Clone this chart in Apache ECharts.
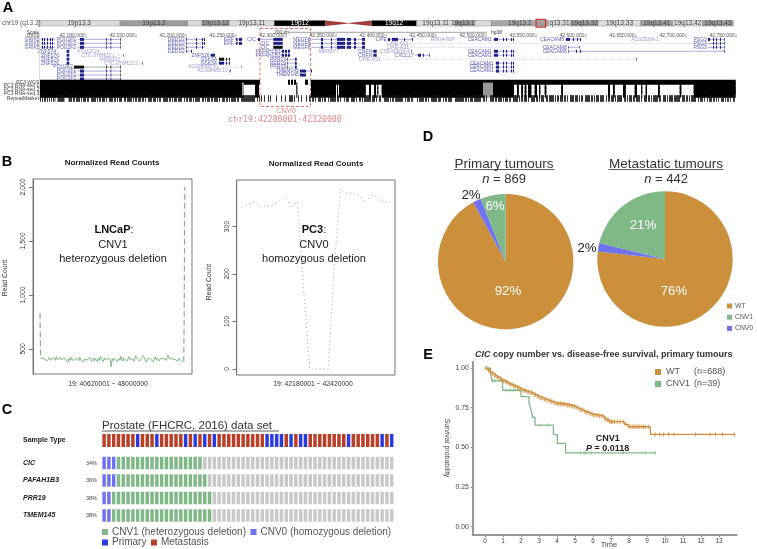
<!DOCTYPE html>
<html><head><meta charset="utf-8">
<style>html,body{margin:0;padding:0;background:#fff}#c{width:757px;height:549px}</style>
<script src="https://cdn.jsdelivr.net/npm/echarts@6/dist/echarts.min.js"></script>
</head><body><div id="c"></div>
<script>
// ---------- Panel A data ----------
const ideoBands = [
 [0,6.9,'19p13.3','#dcdcdc'],[6.9,12.6,'19p13.2','#9c9c9c'],[12.6,13.8,'','#dcdcdc'],[13.8,16.1,'19p13.12','#9c9c9c'],
 [16.1,19.9,'19p13.11','#dcdcdc'],[19.9,24.2,'19p12','#000000'],[24.2,28.1,'','cen'],[28.1,31.9,'19q12','#000000'],
 [31.9,35.1,'19q13.11','#dcdcdc'],[35.1,36.8,'19q13.12','#9c9c9c'],[36.8,38.2,'','#dcdcdc'],[38.2,43,'19q13.2','#a8a8a8'],
 [43,44.9,'q13.31','#dcdcdc'],[44.9,47.2,'19q13.32','#9c9c9c'],[47.2,50.8,'19q13.33','#dcdcdc'],[50.8,53.5,'19q13.41','#9c9c9c'],
 [53.5,56,'19q13.42','#dcdcdc'],[56,58.6,'19q13.43','#9c9c9c']];
const ideoHighlight = [41.97,42.77];
const genomeTicks = [100,150,200,250,300,350,400,450,500,550,600,650,700,750];
// name, row, start, end, exons (start,end pairs), colour key, label end
const G='b', K='k', L='l';
const genes = [
 ['GRIK5',0,54.7,69,[56,57,58,59,61,62,64,65,66,67],G],['GRIK5',1,54.7,69,[56,57,58,59,61,62,64,65,66,67],G],['GRIK5',2,54.7,69,[56,57,58,59,61,62,64,65,66,67],G],
 ['POU2F2',0,91.3,134.7,[94,98,120,120.8,124.5,125.3,134,134.7],G],['POU2F2',1,91.3,134.7,[94,98,120,120.8,124.5,125.3,134,134.7],G],['POU2F2',2,91.3,134.7,[94,98,120,120.8,124.5,125.3,134,134.7],G],
 ['POU2F2',3,112,114,[112,112.6],L],
 ['ZNF574',3,80,83.3,[80.7,83.3],G,70],['ZNF576',4,80,83.3,[80.7,83.3],G,73],['ZNF576',5,80,83.3,[80.7,83.3],G,73],['ZNF576',6,80,83.3,[80.7,83.3],G,73],
 ['CTC-378H22.1',4,131,139,[137,138],L,129],['MIR8323',5,134,134,[],L,134],['CTC-378H22.2',6,154,157,[156,157],L,152],
 ['POU2F2',7,88,134.7,[88,98,120,120.8,124.5,125.3,134,134.7],K],['POU2F2',8,91.5,134.7,[94,98,120,120.8,124.5,125.3,134,134.7],G],['POU2F2',9,91.5,134.7,[94,98,120,120.8,124.5,125.3,134,134.7],G],['POU2F2',10,91.5,134.7,[94,98,120,120.8,124.5,125.3,134,134.7],G],
 ['DEDD2',0,200,219,[200,200.8,210,211,216,217,218,219],G],['DEDD2',1,200,219,[200,200.8,210,211,216,217,218,219],G],['DEDD2',2,200,219,[200,200.8,210,211,216,217],G],['DEDD2',3,200,206,[200,200.8,205,206],G],
 ['ZNF526',4,224.7,229,[224.7,229],G],['GSK3A',5,232.3,244,[233,238,240,241,243,244],K],['GSK3A',6,232.3,244,[233,238,240,241,243,244],G],
 ['AC006486.9',7,231,256,[231,231.5,255.5,256],L],['AC006486.10',8,243,245,[243.5,245],L],
 ['ERF',0,249,256.7,[250,251.5,253,256],G],['ERF',1,249,256.7,[250,251.5,253,256],G],
 ['CIC',0,270.7,296.7,[272,274,287.3,296.7],G],['CIC',1,287,296.7,[287.3,296.7],G,283],['CIC',2,287,296.7,[287.3,296.7],K,283],
 ['PAFAH1B3',3,295.7,304,[295.7,298,299,301,302,304],G],['PAFAH1B3',4,295.7,304,[295.7,298,299,301,302,304],G],
 ['PRR19',5,301.3,310.7,[301.3,302,309,310.7],G],['PRR19',6,301.3,310.7,[301.3,302,309,310.7],G],['PRR19',7,301.3,310.7,[301.3,302,309,310.7],G],
 ['TMEM145',8,314,326,[314,320,325,326],G],['TMEM145',9,314,320,[314,320],G],
 ['MEGF8',0,325.7,379,[335,337,345,346,351,359,361,365,368,370,376,379],G],['MEGF8',1,325.7,379,[335,337,345,346,351,359,361,365,368,370,376,379],G],['MEGF8',2,325.7,379,[335,337,345,346,351,359,361,365,368,370,376,379],G],
 ['MIR8077',3,353,353,[],L,353],['CNFN',3,387.3,390.7,[387.3,390.7],G],['CNFN',4,387.3,390.7,[387.3,390.7],G],
 ['LIPE-AS1',5,397,651,[650,651],L,395],['LIPE',0,402,427,[402,404,406,412,418,419,426,427],G],
 ['LIPE-AS1',1,424.3,738.7,[],L],['LIPE-AS1',2,424.3,525,[],L],['CTB-50E14.4',3,425,426,[425,426],L],
 ['CXCL17',4,428.7,443.7,[432,435,437,438,443,443.7],G],['RNU4-80P',0,470,470,[],L],
 ['CEACAM1',0,507,528,[508,512,517,518,520,521,525,526,527,528],G],['CEACAM1',3,507,528,[508,512,517,518,520,521,525,526,527,528],G],['CEACAM1',4,507,528,[508,512,517,518,520,521,525,526,527,528],G],
 ['CEACAM1',6,509,528,[510,513,517,518,520,521,525,526,527,528],G],['CEACAM1',7,509,528,[510,513,517,518,520,521,525,526,527,528],G],['CEACAM1',8,509,528,[510,513,517,518,520,521,525,526,527,528],G],
 ['CEACAM8',0,579.3,595.3,[580,584,587,588,591,592,594,595],G],['CEACAM8',2,582,594,[582,582.6,593.4,594],G],['CEACAM8',3,582,738.7,[582,582.6,590,591,594,595,738,738.7],G],
 ['AC005264.1',0,673,673,[],L,673],
 ['PSG3',0,722,738.7,[722,724,727,728,730,731,734,735,738,738.7],G],['PSG3',1,722,738.7,[727,728,730,731,734,735,738,738.7],G],['PSG3',2,722,738.7,[727,728,730,731,734,735,738,738.7],G]];
const trackRows = [['PC3 WGS',10.82,0.66],['PC3 RNA-seq 1',11.75,0.85],['PC3 RNA-seq 2',12.78,0.85],['PC3 RNA-seq 3',13.8,0.9],['RepeatMasker',14.92,0.85]];
const wgsBlocks = [[54,274],[302,304],[305,307],[308,310],[319,322],[324.7,749.7]];
const rnaBlocks = [[54,256],[269,273],[310,311.3],[325,350],[351,352],[353,379.7],[383,385],[388,390],[391.3,392.3],[395.7,497],[507,528],
 [531,532.7],[535.3,537],[538.7,540.3],[542,545.3],[548.7,551],[553,554.3],[558.7,560.3],[575.3,577],[622,624],[627,628.7],[637,639.7],[648.7,651],[655.3,656.3],[659.7,661],[672,673.7],[693.7,695.3],[707.7,749.7]];
const rnaGrayBlocks = [[497,507],[256,258],[310,310.5]];
const runsX = [3,1,2,1,4,1,1,1,3,1,2,2,5,1,1,1,2,1,3,1,1,2,4,1,2,1,1,1,3,2,2,1,5,1,1,1,2,1,3,1,2,1,1,2,4,1,3,1,1,1,2,2,5,1,2,1,1,1,3,1,4,2,1,1,2,1,3,1,1,1,5,2,2,1,1,1,3,1,2,1,4,1,1,2,3,1,2,1,1,1,5,1,2,2,3,1,1,1,4,1,2,1];
const runsY = [1,1,2,1,1,2,3,1,1,1,2,2,1,1,6,1,2,1,1,3,1,1,3,2,4,1,1,2,2,1,1,1,7,1,3,1,1,2,2,3,5,1,1,1,2,1,8,2,1,1,3,1,2,4,1,1,5,1,2,1,1,2,6,1,3,2,1,1,2,1,4,3,9,1,2,1,1,1,3,1,7,2,2,1,1,3,1,1,4,1,6,1,2,2,1,1,3,1,10,1,2,1,4,2,1,1,5,1,1,3,2,1,8,2,3,1,1,1,4,1,2,3,6,1,1,1,2,2,9,1,3,1,1,2,5,1,2,1,7,2,1,1,3,1,4,1,2,3,1,1];
const repeatSegments = [
 [54,[1,1,1,1,2,1,1,1,1,1,1,1,1,0.5,1,2,7,4,3,1]],[83,runsX],[256,[13,2,1,1,1,1,1,2,1,3,1,1,1,2]],
 [284,[1,5,1,4,1,3,1,3,4,1,1,3,1,2,1,4,1,2,1,3,1]],[324,runsY],[505,runsX],[690,[4,2,3,1,2,1,1,1,5,2,1,1,3,1,1,2,1,1,3,1,2,1,1,1,1,2,3,1,1,1,2,1,1,2,2,1,1,1,3]]];
// ---------- Panel B data ----------
const lncapStart = 40.65, lncapStep = 0.05;
const lncapValues = [412,405,398,420,401,388,415,392,408,425,396,403,385,418,409,394,430,402,390,411,422,399,407,384,416,428,397,405,376,414,
 392,421,400,387,410,395,382,417,404,391,426,398,386,413,379,406,419,393,401,388,424,408,384,397,415,390,411,402,378,418,
 395,431,405,392,383,420,399,410,386,414,427,394,335,409,389,416,402,425,381,398,412,393,434,407,388,415,400,421,385,396,
 429,404,391,417,408,383,399,437,412,396,424,387,406,418,393,439,402,385,376,414,398,420,407,390,411,380,403,428,395,417,
 401,388,409,423,397,415,432,405,394,420,440,412,399,426,408,391,418,403,395,410,386,414,399,405,382];
const lncapLeftSpike = [[40.62,830],[40.62,760],[40.64,560],[40.65,412]];
const lncapRightSpike = [[47.95,382],[47.97,800],[47.99,1500],[48.0,2000]];
const pc3X = [42.18,42.19,42.2,42.21,42.22,42.23,42.24,42.25,42.26,42.27,42.28,42.29,42.3,42.31,42.32,42.33,42.34,42.35,42.36,42.37,42.38,42.39,42.4,42.41,42.42];
const pc3Values = [341,346,351,343,342,346,352,365,340,352,172,0,0,0,0,222,380,370,370,366,351,365,362,352,350];
const lncapYTicks = [500,1000,1500,2000];
const pc3YTicks = [0,100,200,300];
// ---------- Panel C data ----------
const sampleCount = 61;
const primaryIdx = [7,11,17,19,21,23,34,35,36,37,39,41,42,51,58,60];
const cGenes = ['CIC','PAFAH1B3','PRR19','TMEM145'];
const cPct = ['34%','36%','38%','38%'];
const cCnv0 = [3,3,2,2];
const cCnv1 = [18,19,21,21];
// ---------- Panel D data ----------
const pieNames = ['WT','CNV0','CNV1'];
const primaryPie = [92,2,6];
const metaPie = [76,2,21];
// ---------- Panel E data ----------
const wtSteps = [[0,1],[.1,.995],[.2,.985],[.3,.975],[.37,.966],[.5,.955],[.62,.945],[.75,.935],[.88,.925],[1.02,.918],[1.15,.91],[1.3,.9],[1.45,.893],[1.6,.885],[1.75,.878],[1.94,.866],[2.1,.858],[2.3,.85],[2.5,.843],[2.69,.832],[2.85,.822],[3.05,.812],[3.25,.803],[3.45,.795],[3.65,.787],[3.8,.78],[4,.775],[4.3,.772],[4.54,.766],[4.8,.76],[5,.752],[5.15,.745],[5.28,.737],[5.45,.728],[5.6,.72],[5.8,.71],[6,.703],[6.3,.698],[6.57,.69],[6.7,.675],[6.9,.662],[7.6,.66],[7.75,.645],[7.96,.63],[9.17,.626],[9.2,.582],[13.9,.582]];
const wtCensor = [.05,.15,.2,.28,.33,.4,.45,.52,.58,.66,.7,.78,.84,.92,.98,1.05,1.12,1.2,1.26,1.35,1.42,1.5,1.56,1.65,1.7,1.8,1.88,1.96,2.04,2.12,2.2,2.26,2.35,2.42,2.5,2.58,2.65,2.74,2.8,2.9,2.96,3.05,3.12,3.2,3.3,3.38,3.45,3.55,3.62,3.7,3.78,3.86,3.95,4.02,4.1,4.18,4.25,4.33,4.42,4.5,4.58,4.66,4.72,4.8,4.88,4.96,5.05,5.12,5.2,5.28,5.36,5.44,5.52,5.6,5.7,5.78,5.86,5.95,6.02,6.1,6.2,6.28,6.36,6.45,6.55,6.62,6.72,6.8,6.88,6.95,7.02,7.1,7.2,7.35,7.5,7.68,7.85,8,8.1,8.2,8.3,8.4,8.5,8.6,8.7,8.8,8.9,9.1,9.45,9.7,9.9,10.2,10.5,11.7,12.5,12.8,13.2,13.85];
const cnvSteps = [[0,1],[.3,.966],[.4,.92],[.98,.86],[2,.82],[2.45,.78],[2.55,.74],[2.65,.69],[2.78,.64],[3.8,.58],[4.02,.525],[4.48,.465],[9.5,.465]];
const cnvCensor = [[.4,.92],[.55,.92],[1.2,.86],[1.4,.86],[1.6,.86],[1.9,.86],[3.05,.64],[3.5,.64],[5.3,.465],[5.5,.465],[5.6,.465],[5.9,.465],[7.7,.465],[8.9,.465],[9.45,.465]];
const eYTicks = [0,.25,.5,.75,1];
const eXTicks = [0,1,2,3,4,5,6,7,8,9,10,11,12,13];
const eLegendN = {WT:'(n=688)',CNV1:'(n=39)'};

// ---------- colours ----------
const cWT='#cc8f3c', cCNV1='#80b888', cCNV0='#7173ee', cPrim='#2a3ce0', cMet='#b93f26', cGray='#c9c9c9';
const FF='"Liberation Sans",Arial,sans-serif';

// ---------- helpers ----------
function wtAt(t){let s=1;for(const p of wtSteps){if(p[0]<=t)s=p[1];else break;}return s;}
function expandRuns(){const out=[];repeatSegments.forEach((seg,i)=>{const stop=i+1<repeatSegments.length?repeatSegments[i+1][0]:749.7;let p=seg[0],b=true;
  for(const r of seg[1]){if(p>=stop)break;if(b)out.push([p,Math.min(p+r,stop)]);p+=r;b=!b;}});return out;}
function T(x,y,text,o){o=o||{};return {type:'text',x,y,rotation:o.rot||0,silent:true,z:50,style:Object.assign({text,fontFamily:o.ff||FF,fontSize:o.s||8,fontWeight:o.w||'normal',fontStyle:o.i?'italic':'normal',fill:o.c||'#222',align:o.a||'center',verticalAlign:'middle',rich:o.rich},{})};}
function rule(x1,x2,y,c){return {type:'line',silent:true,z:50,shape:{x1,y1:y,x2,y2:y},style:{stroke:c||'#333',lineWidth:0.8}};}

const gfx = [
 T(8,8,'A',{s:14.5,w:'bold',c:'#000'}),T(7,162,'B',{s:14.5,w:'bold',c:'#000'}),T(7,410,'C',{s:14.5,w:'bold',c:'#000'}),T(428,137,'D',{s:14.5,w:'bold',c:'#000'}),T(428,355,'E',{s:14.5,w:'bold',c:'#000'}),
 T(2,23.6,'chr19 (q13.2)',{s:6.5,a:'left',c:'#555'}),
 T(39,32.3,'Scale',{s:5,a:'right',c:'#444'}),T(39,36,'chr19',{s:5,a:'right',c:'#444'}),
 T(274,32.3,'200 kb',{s:5,a:'left',c:'#444'}),T(491,32.3,'hg38',{s:5,a:'left',c:'#444'}),
 {type:'line',silent:true,z:40,shape:{x1:289,y1:32.3,x2:487,y2:32.3},style:{stroke:'#666',lineWidth:0.6}},
 {type:'line',silent:true,z:40,shape:{x1:39.5,y1:33,x2:39.5,y2:100},style:{stroke:'#e6cfc8',lineWidth:0.8}},
 {type:'rect',silent:true,z:45,shape:{x:260,y:28.5,width:50.5,height:78},style:{fill:'none',stroke:'#d9534f',lineWidth:0.8,lineDash:[3,2]}},
 T(286,110.5,'CNV0',{s:7.5,c:'#e08a86'}),
 T(285,119.5,'chr19:42280001-42320000',{s:8.2,ff:'"DejaVu Sans Mono",monospace',c:'#e08a86'}),
 // B
 T(112,163,'Normalized Read Counts',{s:8,w:'bold'}),T(316,164,'Normalized Read Counts',{s:8,w:'bold'}),
 T(5,278,'Read Count',{s:6.8,rot:Math.PI/2,c:'#333'}),T(209,282,'Read Count',{s:6.8,rot:Math.PI/2,c:'#333'}),
 T(108,384,'19: 40620001 − 48000000',{s:6.8,c:'#333'}),T(313,384,'19: 42180001 − 42420000',{s:6.8,c:'#333'}),
 T(114,230,'{b|LNCaP}:',{s:11,rich:{b:{fontWeight:'bold',fontSize:11,fontFamily:FF,fill:'#111'}}}),T(113,244.5,'CNV1',{s:11}),T(113,259,'heterozygous deletion',{s:11}),
 T(314,230,'{b|PC3}:',{s:11,rich:{b:{fontWeight:'bold',fontSize:11,fontFamily:FF,fill:'#111'}}}),T(314,244.5,'CNV0',{s:11}),T(314,259,'homozygous deletion',{s:11}),
 // C
 T(102,426,'Prostate (FHCRC, 2016) data set',{s:11.5,a:'left',c:'#333'}),rule(102,279,431),
 T(23,440.5,'Sample Type',{s:7,w:'bold',a:'left'}),
 // D
 T(504,164,'Primary tumours',{s:13.5,c:'#333'}),rule(454,554.5,169.5),
 T(666,164,'Metastatic tumours',{s:13.5,c:'#333'}),rule(608.5,723.5,169.5),
 T(504,179,'{i|n} = 869',{s:13,c:'#333',rich:{i:{fontStyle:'italic',fontSize:13,fontFamily:FF,fill:'#333'}}}),
 T(666,179,'{i|n} = 442',{s:13,c:'#333',rich:{i:{fontStyle:'italic',fontSize:13,fontFamily:FF,fill:'#333'}}}),
 // E
 T(475,355,'{i|CIC} copy number vs. disease-free survival, primary tumours',{s:9,w:'bold',a:'left',c:'#333',rich:{i:{fontStyle:'italic',fontWeight:'bold',fontSize:9,fontFamily:FF,fill:'#333'}}}),
 T(609,545,'Time',{s:7.5,c:'#444'}),T(447,448,'Survival probability',{s:7,rot:-Math.PI/2,c:'#444'}),
 T(607.7,439,'CNV1',{s:9,w:'bold'}),
 T(607.7,448.5,'{i|P} = 0.0118',{s:9,w:'bold',rich:{i:{fontStyle:'italic',fontWeight:'bold',fontSize:9,fontFamily:FF,fill:'#222'}}})
];
cGenes.forEach((g,i)=>{const y=463+17.5*i;gfx.push(T(23,y,g,{s:7,w:'bold',i:true,a:'left'}));gfx.push(T(97,y,cPct[i],{s:5.5,a:'right',c:'#444'}));});

// ---------- grids & axes ----------
const hidden = (o)=>Object.assign({type:'value',show:false},o);
const grids=[
 {left:38.3,width:695,top:20.5,height:5.5},
 {left:40,width:697,top:27.5,height:83.2},
 {left:33,width:159,top:179,height:195,show:true,borderColor:'#777',borderWidth:1},
 {left:236.7,width:158.3,top:180,height:195,show:true,borderColor:'#777',borderWidth:1},
 {left:101.7,width:292.4,top:428,height:105},
 {left:472.7,width:264,top:361.7,height:173.3}];
const rY=(ticks,min,max)=>({type:'value',gridIndex:0,min,max,splitLine:{show:false},axisLine:{show:true,lineStyle:{color:'#777'}},
  axisTick:{show:true,length:4,customValues:ticks,lineStyle:{color:'#777'}},
  axisLabel:{show:true,customValues:ticks,rotate:90,fontSize:6.8,color:'#333',margin:6,fontFamily:FF}});
const xAxes=[hidden({gridIndex:0,min:0,max:58.6}),hidden({gridIndex:1,min:54,max:751}),
 hidden({gridIndex:2,min:40.26,max:48.37}),hidden({gridIndex:3,min:42.1719,max:42.4281}),
 hidden({gridIndex:4,min:-0.5,max:sampleCount-0.5}),
 {type:'value',gridIndex:5,min:-0.68,max:13.98,splitLine:{show:false},axisLine:{show:true,onZero:false,lineStyle:{color:'#999',width:2}},
  axisTick:{show:true,length:2,customValues:eXTicks,lineStyle:{color:'#888'}},axisLabel:{show:true,customValues:eXTicks,fontSize:6.5,color:'#444',margin:3,fontFamily:FF}}];
const yAxes=[hidden({gridIndex:0,min:0,max:1}),hidden({gridIndex:1,min:-3,max:18,inverse:true}),
 Object.assign(rY(lncapYTicks,268,2074),{gridIndex:2}),Object.assign(rY(pc3YTicks,-13,398),{gridIndex:3}),
 hidden({gridIndex:4,min:-2,max:4,inverse:true}),
 {type:'value',gridIndex:5,min:-0.052,max:1.04,splitLine:{show:false},axisLine:{show:true,onZero:false,lineStyle:{color:'#999',width:2}},
  axisTick:{show:true,length:2,customValues:eYTicks,lineStyle:{color:'#888'}},
  axisLabel:{show:true,customValues:eYTicks,fontSize:6.8,color:'#444',margin:4,fontFamily:FF,formatter:v=>v.toFixed(2)}}];

// ---------- render functions ----------
function rectEl(api,x1,x2,yc,hRows,fill,op){const a=api.coord([x1,yc-hRows]),b=api.coord([x2,yc+hRows]);return {type:'rect',shape:{x:a[0],y:a[1],width:b[0]-a[0],height:b[1]-a[1]},style:{fill,opacity:op==null?1:op}};}
const ideoSeries={type:'custom',name:'ideogram',xAxisIndex:0,yAxisIndex:0,coordinateSystem:'cartesian2d',silent:true,clip:false,z:5,
 data:ideoBands.map(b=>[b[0],b[1]]),
 renderItem(p,api){const b=ideoBands[p.dataIndex];const a=api.coord([b[0],0]),c=api.coord([b[1],1]);const kids=[];const x=a[0],w=c[0]-a[0],top=c[1],h=a[1]-c[1];
  if(b[3]==='cen'){const m=x+w/2,mid=top+h/2;kids.push({type:'polygon',shape:{points:[[x,top],[m,mid-0.3],[x+w,top],[x+w,top+h],[m,mid+0.3],[x,top+h]]},style:{fill:'#a33a3a'}});}
  else{kids.push({type:'rect',shape:{x,y:top,width:w,height:h},style:{fill:b[3],stroke:'#777',lineWidth:0.4}});
   if(b[2])kids.push({type:'text',style:{text:b[2],x:x+w/2,y:top+h/2+0.3,align:'center',verticalAlign:'middle',font:'6.5px '+FF,fill:b[3]==='#000000'?'#fff':'#444'}});}
  return {type:'group',children:kids};}};
const ideoHL={type:'custom',name:'ideogramHighlight',xAxisIndex:0,yAxisIndex:0,silent:true,clip:false,z:6,data:[ideoHighlight],
 renderItem(p,api){const a=api.coord([ideoHighlight[0],-0.2]),c=api.coord([ideoHighlight[1],1.2]);return {type:'rect',shape:{x:a[0],y:c[1],width:c[0]-a[0],height:a[1]-c[1]},style:{fill:'rgba(160,150,150,.6)',stroke:'#cc3b30',lineWidth:1.3}};}};
const geneColors={b:['#5a5ab4','#1f1f8a','#5f5fb5'],k:['#555','#111','#5f5fb5'],l:['#9a9ad0','#7a7ac0','#9a9ad4']};
const geneSeries={type:'custom',name:'genes',xAxisIndex:1,yAxisIndex:1,silent:true,clip:false,z:6,
 data:genes.map(g=>[g[2],g[3],g[1]]),
 renderItem(p,api){const g=genes[p.dataIndex],col=geneColors[g[5]];const kids=[];const a=api.coord([g[2],g[1]]),b=api.coord([g[3],g[1]]);
  if(b[0]>a[0])kids.push({type:'line',shape:{x1:a[0],y1:a[1],x2:b[0],y2:b[1]},style:{stroke:col[0],lineWidth:0.5,lineDash:g[5]==='l'?[1,1]:null}});
  for(let i=0;i+1<g[4].length;i+=2){kids.push(rectEl(api,g[4][i],g[4][i+1],g[1],0.38,col[1]));}
  const lx=api.coord([g[6]!=null?g[6]:g[2]-1.2,g[1]]);
  kids.push({type:'text',style:{text:g[0],x:lx[0],y:lx[1],align:'right',verticalAlign:'middle',font:'5px '+FF,fill:col[2]}});
  return {type:'group',children:kids};}};
const tickSeries={type:'custom',name:'genomeTicks',xAxisIndex:1,yAxisIndex:1,silent:true,clip:false,z:6,data:genomeTicks.map(t=>[t,-0.85]),
 renderItem(p,api){const t=genomeTicks[p.dataIndex];const a=api.coord([t,-0.85]);const s='42,'+String(t)+',000';
  return {type:'group',children:[{type:'line',shape:{x1:a[0],y1:a[1]-1.8,x2:a[0],y2:a[1]+1.8},style:{stroke:'#444',lineWidth:0.5}},
   {type:'text',style:{text:s,x:a[0]-1.5,y:a[1],align:'right',verticalAlign:'middle',font:'5px '+FF,fill:'#555'}}]};}};
function blockSeries(name,blocks,row,half,fill,op){return {type:'custom',name,xAxisIndex:1,yAxisIndex:1,silent:true,clip:false,z:7,data:blocks,
 renderItem(p,api){return rectEl(api,api.value(0),api.value(1),row,half,fill,op);}};}
const trackSeries=[blockSeries('PC3 WGS',wgsBlocks,trackRows[0][1],trackRows[0][2],'#000')];
[1,2,3].forEach(i=>{trackSeries.push(blockSeries(trackRows[i][0],rnaBlocks,trackRows[i][1],trackRows[i][2],'#000'));trackSeries.push(blockSeries(trackRows[i][0]+' low',rnaGrayBlocks,trackRows[i][1],trackRows[i][2],'#999'));});
trackSeries.push(blockSeries('RepeatMasker',expandRuns(),trackRows[4][1],trackRows[4][2],'#111',0.85));
const trackLabels={type:'custom',name:'trackLabels',xAxisIndex:1,yAxisIndex:1,silent:true,clip:false,z:7,data:trackRows.map(r=>[54,r[1]]),
 renderItem(p,api){const r=trackRows[p.dataIndex];const a=api.coord([53.3,r[1]]);return {type:'text',style:{text:r[0],x:a[0],y:a[1],align:'right',verticalAlign:'middle',font:'5px '+FF,fill:'#444'}};}};

// C
function oncoCells(row,from,to){const o=[];for(let i=from;i<to;i++)o.push([i,row]);return o;}
const cnv0Cells=[],cnv1Cells=[],wtCells=[];
cGenes.forEach((g,r)=>{cnv0Cells.push(...oncoCells(r,0,cCnv0[r]));cnv1Cells.push(...oncoCells(r,cCnv0[r],cCnv0[r]+cCnv1[r]));wtCells.push(...oncoCells(r,cCnv0[r]+cCnv1[r],sampleCount));});
const stRow=-1.286;const primCells=[],metCells=[];
for(let i=0;i<sampleCount;i++){(primaryIdx.includes(i)?primCells:metCells).push([i,stRow]);}
function cellSeries(name,data,color){return {type:'custom',name,xAxisIndex:4,yAxisIndex:4,silent:true,z:5,itemStyle:{color},data,
 renderItem(p,api){const c=api.coord([api.value(0),api.value(1)]);const h=api.value(1)<0?13:12.5;return {type:'rect',shape:{x:c[0]-1.75,y:c[1]-h/2,width:3.5,height:h},style:{fill:color}};}};}

// pie
const pieColors=[cWT,cCNV0,cCNV1];
const toPie=v=>pieNames.map((n,i)=>({name:n,value:v[i],itemStyle:{color:pieColors[i]},label:{color:i===1?'#222':'#fff'}}));
function pieSeries(name,vals,cx,cy,pos){return {type:'pie',name,center:[cx,cy],radius:[0,67.7],startAngle:90,clockwise:true,silent:true,animation:false,data:toPie(vals),
 label:{show:true,position:'inside',fontSize:13.3,fontFamily:FF,formatter:d=>d.value+'%'},labelLine:{show:false},
 labelLayout:p=>({x:pos[p.dataIndex][0],y:pos[p.dataIndex][1]})};}

const wtLine=wtSteps.slice();
const option={animation:false,backgroundColor:'#fff',textStyle:{fontFamily:FF},grid:grids,xAxis:xAxes,yAxis:yAxes,graphic:{elements:gfx},
 legend:[
  {left:102,top:527,padding:0,itemWidth:6,itemHeight:6,itemGap:4.5,selectedMode:false,textStyle:{fontSize:10,color:'#555',padding:[0,0,0,-1]},data:[{name:'CNV1 (heterozygous deletion)',icon:'rect'},{name:'CNV0 (homozygous deletion)',icon:'rect'}]},
  {left:102,top:537.5,padding:0,itemWidth:6,itemHeight:6,itemGap:4.5,selectedMode:false,textStyle:{fontSize:10,color:'#555',padding:[0,0,0,-1]},data:[{name:'Primary',icon:'rect'},{name:'Metastasis',icon:'rect'}]},
  {left:727,top:302.5,orient:'vertical',padding:0,itemWidth:5,itemHeight:5,itemGap:4.2,selectedMode:false,textStyle:{fontSize:6.8,color:'#555',padding:[0,0,0,-2]},data:[{name:'WT',icon:'rect',itemStyle:{color:cWT}},{name:'CNV1',icon:'rect',itemStyle:{color:cCNV1}},{name:'CNV0',icon:'rect',itemStyle:{color:cCNV0}}]},
  {left:655,top:367.5,orient:'vertical',padding:0,itemWidth:6,itemHeight:6,itemGap:3,selectedMode:false,
   formatter:n=>'{a|'+n+'}{b|'+eLegendN[n]+'}',textStyle:{fontSize:9,color:'#555',rich:{a:{width:28,fontSize:9,color:'#555'},b:{fontSize:9,color:'#555'}}},
   data:[{name:'WT',icon:'rect',itemStyle:{color:cWT}},{name:'CNV1',icon:'rect',itemStyle:{color:cCNV1}}]}
 ],
 series:[
  ideoSeries,ideoHL,tickSeries,geneSeries,...trackSeries,trackLabels,
  // B
  {type:'line',name:'LNCaP read count',xAxisIndex:2,yAxisIndex:2,showSymbol:false,silent:true,lineStyle:{color:cCNV1,width:1},z:4,
   data:lncapValues.map((v,i)=>[lncapStart+i*lncapStep,v])},
  {type:'line',name:'LNCaP left',xAxisIndex:2,yAxisIndex:2,showSymbol:false,silent:true,lineStyle:{color:cCNV1,width:1.2,type:[6,3]},z:4,data:lncapLeftSpike},
  {type:'line',name:'LNCaP right',xAxisIndex:2,yAxisIndex:2,showSymbol:false,silent:true,lineStyle:{color:cCNV1,width:1.2,type:[6,3]},z:4,data:lncapRightSpike},
  {type:'line',name:'PC3 read count',xAxisIndex:3,yAxisIndex:3,showSymbol:false,silent:true,lineStyle:{color:'#9a9ad6',width:1,type:[1,3]},z:4,
   data:pc3Values.map((v,i)=>[pc3X[i],v])},
  // C
  cellSeries('Metastasis',metCells,cMet),cellSeries('Primary',primCells,cPrim),
  cellSeries('CNV1 (heterozygous deletion)',cnv1Cells,cCNV1),cellSeries('CNV0 (homozygous deletion)',cnv0Cells,cCNV0),cellSeries('Not altered',wtCells,cGray),
  // D
  pieSeries('Primary tumours',primaryPie,505.7,261.7,[[508,291],[471,195.5],[495,206]]),
  pieSeries('Metastatic tumours',metaPie,665,259,[[674,291],[587,248],[643,225]]),
  // E
  {type:'line',name:'WT',step:'end',xAxisIndex:5,yAxisIndex:5,showSymbol:false,silent:true,itemStyle:{color:cWT},lineStyle:{color:cWT,width:1.3},z:4,data:wtLine},
  {type:'line',name:'CNV1',step:'end',xAxisIndex:5,yAxisIndex:5,showSymbol:false,silent:true,itemStyle:{color:cCNV1},lineStyle:{color:cCNV1,width:1.3},z:3,data:cnvSteps},
  {type:'scatter',name:'WT censored',xAxisIndex:5,yAxisIndex:5,silent:true,symbol:'rect',symbolSize:[1,4.5],itemStyle:{color:cWT},z:4,data:wtCensor.map(t=>[t,wtAt(t)])},
  {type:'scatter',name:'CNV1 censored',xAxisIndex:5,yAxisIndex:5,silent:true,symbol:'rect',symbolSize:[0.8,4],itemStyle:{color:cCNV1},z:3,data:cnvCensor}
 ]};
const chart=echarts.init(document.getElementById('c'),null,{renderer:'canvas'});
chart.setOption(option);
</script></body></html>
